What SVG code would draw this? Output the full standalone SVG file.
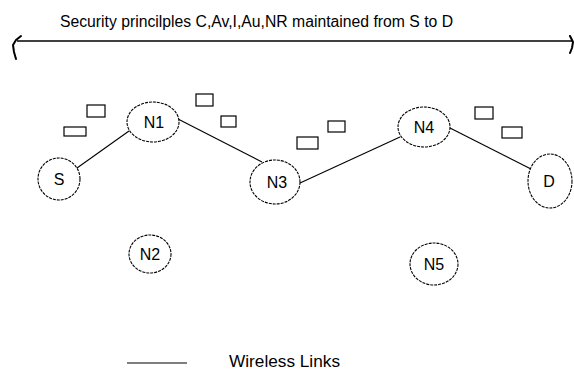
<svg xmlns="http://www.w3.org/2000/svg" width="574" height="371" viewBox="0 0 574 371">
<style>
.node ellipse{fill:#fff;stroke:#000;stroke-width:1.1;stroke-dasharray:3,1}
.lbl{font-family:"Liberation Sans",Arial,sans-serif;font-size:16px;fill:#000;text-anchor:middle}
.txt{font-family:"Liberation Sans",Arial,sans-serif;font-size:16px;fill:#000}
.link{stroke:#000;stroke-width:1.1;fill:none}
.pkt{fill:#fff;stroke:#000;stroke-width:1.2}
.curl{stroke:#000;stroke-width:2;fill:none;stroke-linejoin:round;stroke-linecap:round}
</style>
<rect width="574" height="371" fill="#fff"/>
<text class="txt" x="60" y="27" textLength="393" lengthAdjust="spacingAndGlyphs">Security princilples C,Av,I,Au,NR maintained from S to D</text>
<g id="span-arrow">
<line x1="17" y1="41" x2="572" y2="41" stroke="#000" stroke-width="1.5"/>
<path class="curl" d="M21,36 L16,40 L13,45 L14,52 L16,59"/>
<path class="curl" d="M570,36 L573,42 L572,48 L570,53"/>
</g>
<g id="connectors">
<line class="link" x1="77" y1="168" x2="129" y2="131"/>
<line class="link" x1="178" y1="119" x2="262" y2="162"/>
<line class="link" x1="300" y1="183" x2="400" y2="137"/>
<line class="link" x1="450" y1="128" x2="531" y2="169"/>
</g>
<g id="packets">
<rect class="pkt" x="87" y="105" width="18" height="12"/>
<rect class="pkt" x="64" y="127" width="22" height="9"/>
<rect class="pkt" x="196" y="94" width="17" height="12"/>
<rect class="pkt" x="221" y="116" width="15" height="11"/>
<rect class="pkt" x="328" y="121" width="17" height="11"/>
<rect class="pkt" x="297" y="137" width="21" height="12"/>
<rect class="pkt" x="475" y="107" width="18" height="12"/>
<rect class="pkt" x="502" y="127" width="20" height="11"/>
</g>
<g id="node-S" class="node"><ellipse cx="59" cy="179" rx="21" ry="21"/><text class="lbl" x="59" y="185">S</text></g>
<g id="node-N1" class="node"><ellipse cx="153" cy="122" rx="26" ry="20"/><text class="lbl" x="154" y="128">N1</text></g>
<g id="node-N3" class="node"><ellipse cx="275" cy="182" rx="25" ry="22"/><text class="lbl" x="277" y="188">N3</text></g>
<g id="node-N4" class="node"><ellipse cx="424" cy="127" rx="26" ry="20"/><text class="lbl" x="424" y="133">N4</text></g>
<g id="node-D" class="node"><ellipse cx="550" cy="181" rx="22" ry="27"/><text class="lbl" x="549" y="187">D</text></g>
<g id="node-N2" class="node"><ellipse cx="150" cy="254" rx="21" ry="19"/><text class="lbl" x="150" y="260">N2</text></g>
<g id="node-N5" class="node"><ellipse cx="434" cy="264" rx="24" ry="21"/><text class="lbl" x="434" y="270">N5</text></g>
<g id="legend">
<line class="link" x1="127" y1="363" x2="187" y2="363"/>
<text class="txt" x="229" y="367" textLength="111" lengthAdjust="spacingAndGlyphs">Wireless Links</text>
</g>
</svg>
